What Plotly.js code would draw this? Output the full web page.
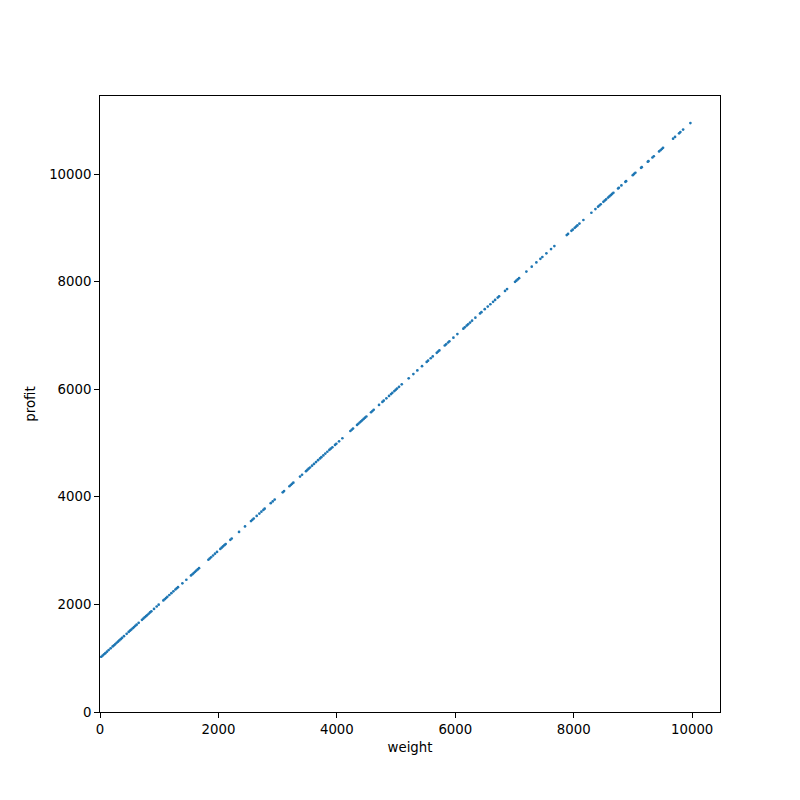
<!DOCTYPE html>
<html>
<head>
<meta charset="utf-8">
<script src="https://cdn.plot.ly/plotly-3.0.1.min.js"></script>
<style>html,body{margin:0;padding:0;background:#fff;}#chart{width:800px;height:800px;}</style>
</head>
<body>
<div id="chart"></div>
<script>
const weight = [
22,45,68,90,118,146,180,214,236,259,282,304,326,349,372,405,450,484,507,529,552,574,597,619,653,709,732,754,777,799,822,845,867,912,957,991,1070,1092,1115,1137,1171,1205,1239,1273,1295,1317,
1391,1458,1537,1560,1582,1605,1627,1650,1672,1830,1852,1875,1909,1942,1976,2032,2055,2077,2100,2122,2201,2224,2348,2449,2550,2573,2596,
2646,2691,2725,2759,2781,2883,2917,2950,3086,3108,3198,3221,3243,3265,3378,3412,3479,3502,3524,3547,3581,3614,3648,3682,3716,3738,3772,3805,3839,3873,3896,
3924,3969,3991,4037,4093,4228,4251,4273,4341,4363,4386,4408,4431,4453,4476,4498,4577,4600,4622,4712,4769,4791,4836,4881,4915,4937,4971,4994,5016,5050,5096,
5213,5292,5359,5438,5517,5540,5585,5619,5687,5709,5731,5822,5844,5878,5900,5968,6035,6136,6160,6193,6216,6249,6283,6339,6418,6441,6497,
6548,6592,6638,6672,6717,6739,6840,6874,7009,7031,7054,7077,7200,7291,7369,7437,7470,7538,7617,7673,
7882,7904,7961,7983,8017,8040,8062,8096,8163,8298,8366,8411,8433,8456,8501,8524,8546,8580,8602,8625,8648,8670,8749,8761,8805,8872,8884,8997,9019,9041,
9137,9149,9250,9261,9329,9352,9441,9464,9487,9508,9678,9711,9779,9801,9847,9970
];
const profit = [
1027,1049,1073,1094,1122,1151,1184,1219,1240,1263,1287,1308,1331,1353,1377,1409,1454,1489,1511,1533,1557,1578,1601,1624,1657,1713,1736,1759,1781,1803,1826,1850,1871,1916,1961,1995,2074,2096,2119,2141,2175,2209,2243,2277,2299,2321,
2392,2458,2538,2560,2583,2605,2628,2650,2673,2830,2852,2876,2909,2943,2976,3032,3055,3077,3101,3122,3201,3224,3348,3449,3549,3573,3596,
3644,3689,3723,3757,3779,3881,3915,3948,4084,4106,4196,4219,4241,4263,4376,4410,4477,4500,4522,4545,4579,4612,4646,4680,4714,4736,4770,4803,4837,4871,4894,
4919,4964,4986,5032,5088,5223,5246,5268,5336,5358,5381,5403,5426,5448,5471,5493,5572,5595,5617,5707,5764,5786,5831,5876,5910,5932,5966,5989,6011,6045,6091,
6203,6282,6349,6428,6507,6530,6575,6609,6677,6699,6721,6812,6834,6868,6890,6958,7025,7126,7150,7183,7206,7239,7273,7329,7408,7431,7487,
7535,7579,7625,7659,7704,7726,7827,7861,7996,8018,8041,8064,8187,8278,8356,8424,8457,8525,8604,8660,
8864,8886,8943,8965,8999,9022,9044,9078,9145,9280,9348,9393,9415,9438,9483,9506,9528,9562,9584,9607,9630,9652,9731,9743,9787,9854,9866,9979,10001,10023,
10115,10127,10228,10239,10307,10330,10419,10442,10465,10486,10656,10689,10757,10779,10825,10947
];
const xTicks = [0, 2000, 4000, 6000, 8000, 10000];
const yTicks = [0, 2000, 4000, 6000, 8000, 10000];

const font = {family: 'DejaVu Sans, sans-serif', size: 13.3, color: '#000'};
const axisCommon = {
  showgrid: false, zeroline: false, showline: true, linecolor: '#000', linewidth: 1,
  mirror: true, ticks: 'outside', ticklen: 4.9, tickwidth: 1, tickcolor: '#000',
  tickfont: font, automargin: false, tickmode: 'array'
};
const trace = {
  x: weight, y: profit, type: 'scatter', mode: 'markers',
  marker: {color: '#1f77b4', size: 2.7, line: {width: 0}},
  hoverinfo: 'none'
};
const layout = {
  width: 800, height: 800,
  margin: {l: 100, r: 80, t: 96, b: 88},
  paper_bgcolor: '#fff', plot_bgcolor: '#fff',
  font: font, showlegend: false,
  xaxis: Object.assign({}, axisCommon, {range: [0, 10470], tickvals: xTicks, ticktext: xTicks.map(String),
    title: {text: 'weight', font: font, standoff: 6}}),
  yaxis: Object.assign({}, axisCommon, {range: [0, 11450], tickvals: yTicks, ticktext: yTicks.map(String),
    title: {text: 'profit', font: font, standoff: 10}})
};
Plotly.newPlot('chart', [trace], layout, {staticPlot: true, displayModeBar: false});
</script>
</body>
</html>
